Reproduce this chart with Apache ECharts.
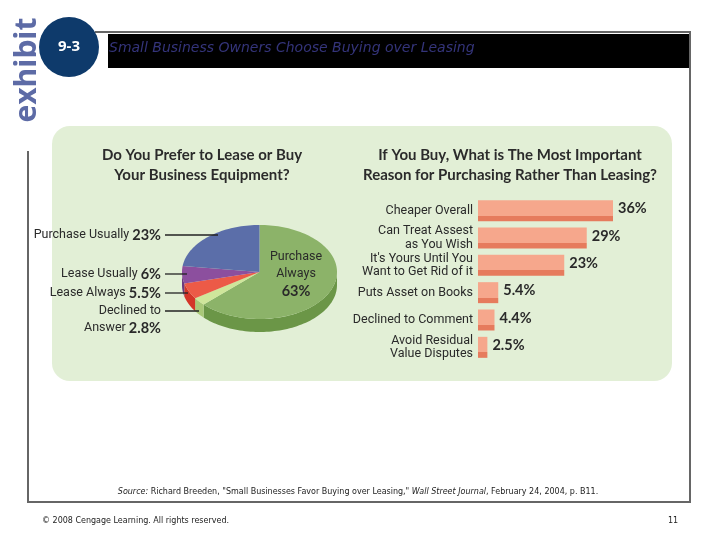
<!DOCTYPE html>
<html><head><meta charset="utf-8">
<script src="https://cdn.jsdelivr.net/npm/echarts@6/dist/echarts.min.js"></script>
<style>html,body{margin:0;padding:0;background:#fff}#c{width:720px;height:540px}</style>
</head><body><div id="c"></div>
<script>
// ---- data ----
const pieNames = ['Purchase\nAlways', 'Declined to\nAnswer', 'Lease Always', 'Lease Usually', 'Purchase Usually'];
const pieValues = [63, 2.8, 5.5, 6, 23];
const barCategories = ['Cheaper Overall', 'Can Treat Assest\nas You Wish', "It's Yours Until You\nWant to Get Rid of it", 'Puts Asset on Books', 'Declined to Comment', 'Avoid Residual\nValue Disputes'];
const barValues = [36, 29, 23, 5.4, 4.4, 2.5];
const pieTitle = 'Do You Prefer to Lease or Buy\nYour Business Equipment?';
const barTitle = 'If You Buy, What is The Most Important\nReason for Purchasing Rather Than Leasing?';
const mainTitle = 'Small Business Owners Choose Buying over Leasing';

// ---- styles / layout ----
const PIE = {cx: 259.5, cy: 272, rx: 77.5, ry: 47, depth: 13};
const topColors = ['#8cb369', '#cfe69b', '#ec5a47', '#8c4f9e', '#5b6ea9'];
const sideColors = ['#6b9647', '#a9c878', '#d43528', '#6a3a7e', '#44568a'];
const labelY = [274, 319.5, 293, 274, 235];
const lineEndX = [0, 199, 188, 187, 218];
const lineY = [0, 311, 293, 274, 235];
const NARROW = 'Roboto,"Liberation Sans Narrow",sans-serif';
const BOLD = 'Lato,"Open Sans",sans-serif';

const total = pieValues.reduce((a, b) => a + b, 0);
function ept(a, dy) { return [PIE.cx + PIE.rx * Math.cos(a), PIE.cy + PIE.ry * Math.sin(a) + (dy || 0)]; }
function arc(a0, a1, dy) {
  const n = Math.max(2, Math.ceil((a1 - a0) / (Math.PI / 90)));
  const pts = [];
  for (let k = 0; k <= n; k++) pts.push(ept(a0 + (a1 - a0) * k / n, dy));
  return pts;
}
function fmt(v) { return v + '%'; }

function renderPie(params, api) {
  const i = params.dataIndex;
  let before = 0;
  for (let j = 0; j < i; j++) before += pieValues[j];
  const v = api.value(0);
  const a0 = -Math.PI / 2 + before / total * 2 * Math.PI;
  const a1 = a0 + v / total * 2 * Math.PI;
  const children = [];
  const s0 = Math.max(a0, 0), s1 = Math.min(a1, Math.PI);
  if (s1 > s0) {
    const top = arc(s0, s1, 0);
    const bot = arc(s0, s1, PIE.depth).reverse();
    children.push({type: 'polygon', shape: {points: top.concat(bot)}, style: {fill: sideColors[i]}, z2: 1});
  }
  children.push({type: 'polygon', shape: {points: [[PIE.cx, PIE.cy]].concat(arc(a0, a1, 0))}, style: {fill: topColors[i]}, z2: 5});
  const lines = pieNames[i].split('\n');
  const rich = {
    n: {font: '12.5px ' + NARROW, fill: '#2a2a2a', lineHeight: 17},
    p: {font: 'bold 14.5px ' + BOLD, fill: '#2a2a2a', lineHeight: 17}
  };
  if (i === 0) {
    const txt = lines.map(l => '{n|' + l + '}').join('\n') + '\n{p|' + fmt(v) + '}';
    children.push({type: 'text', z2: 10, style: {x: 296, y: labelY[i], text: txt, rich: rich, align: 'center', verticalAlign: 'middle'}});
  } else {
    const parts = lines.map(l => '{n|' + l + '}');
    parts[parts.length - 1] = '{n|' + lines[lines.length - 1] + ' }{p|' + fmt(v) + '}';
    children.push({type: 'text', z2: 10, style: {x: 161, y: labelY[i], text: parts.join('\n'), rich: rich, align: 'right', verticalAlign: 'middle'}});
    children.push({type: 'line', z2: 10, shape: {x1: 165, y1: lineY[i], x2: lineEndX[i], y2: lineY[i]}, style: {stroke: '#222', lineWidth: 1.3}});
  }
  return {type: 'group', children: children};
}

const chart = echarts.init(document.getElementById('c'), null, {renderer: 'canvas'});
chart.setOption({
  animation: false,
  backgroundColor: '#ffffff',
  graphic: [
    {type: 'rect', z: 0, shape: {x: 52, y: 126, width: 620, height: 255, r: 18}, style: {fill: '#e2efd6'}},
    {type: 'text', z: 1, x: 27, y: 70, rotation: Math.PI / 2, style: {text: 'exhibit', font: 'bold 30px "Open Sans",sans-serif', fill: '#5d6ba6', align: 'center', verticalAlign: 'middle'}},
    {type: 'line', z: 1, shape: {x1: 95, y1: 32, x2: 691, y2: 32}, style: {stroke: '#666', lineWidth: 2}},
    {type: 'line', z: 1, shape: {x1: 690, y1: 32, x2: 690, y2: 502}, style: {stroke: '#666', lineWidth: 2}},
    {type: 'line', z: 1, shape: {x1: 28, y1: 502, x2: 691, y2: 502}, style: {stroke: '#666', lineWidth: 2}},
    {type: 'line', z: 1, shape: {x1: 28, y1: 151, x2: 28, y2: 503}, style: {stroke: '#666', lineWidth: 2}},
    {type: 'rect', z: 1, shape: {x: 108, y: 34, width: 581, height: 34}, style: {fill: '#000'}},
    {type: 'circle', z: 2, shape: {cx: 69, cy: 47, r: 30}, style: {fill: '#0e3a6b'}},
    {type: 'text', z: 3, style: {x: 69, y: 47, text: '9-3', font: 'bold 15px "Open Sans",sans-serif', fill: '#fff', align: 'center', verticalAlign: 'middle'}},
    {type: 'text', z: 3, style: {x: 109, y: 48, text: mainTitle, font: 'italic 14px "DejaVu Sans",sans-serif', fill: '#34347a', align: 'left', verticalAlign: 'middle'}},
    {type: 'text', z: 3, style: {x: 202, y: 165, text: pieTitle, font: 'bold 15px ' + BOLD, lineHeight: 20, fill: '#2b2b2b', align: 'center', verticalAlign: 'middle'}},
    {type: 'text', z: 3, style: {x: 510, y: 165, text: barTitle, font: 'bold 15px ' + BOLD, lineHeight: 20, fill: '#2b2b2b', align: 'center', verticalAlign: 'middle'}},
    {type: 'text', z: 3, style: {x: 358, y: 492, text: '{i|Source:} Richard Breeden, "Small Businesses Favor Buying over Leasing," {i|Wall Street Journal}, February 24, 2004, p. B11.', font: '8px "DejaVu Sans",sans-serif', fill: '#222', align: 'center', verticalAlign: 'middle', rich: {i: {font: 'italic 8px "DejaVu Sans",sans-serif', fill: '#222'}}}},
    {type: 'text', z: 3, style: {x: 42, y: 521, text: '© 2008 Cengage Learning. All rights reserved.', font: '8px "DejaVu Sans",sans-serif', fill: '#222', align: 'left', verticalAlign: 'middle'}},
    {type: 'text', z: 3, style: {x: 673, y: 521, text: '11', font: '8px "DejaVu Sans",sans-serif', fill: '#222', align: 'center', verticalAlign: 'middle'}}
  ],
  grid: {left: 478, top: 197, width: 150, height: 164, containLabel: false},
  xAxis: {type: 'value', min: 0, max: 40, show: false},
  yAxis: {
    type: 'category', data: barCategories, inverse: true,
    axisLine: {show: false}, axisTick: {show: false}, splitLine: {show: false},
    axisLabel: {color: '#2a2a2a', fontSize: 12.5, fontFamily: NARROW, lineHeight: 13.5, margin: 5, align: 'right'}
  },
  series: [
    {
      type: 'bar', data: barValues, barWidth: 21, z: 5,
      itemStyle: {
        color: new echarts.graphic.LinearGradient(0, 0, 0, 1, [
          {offset: 0, color: '#f6a78c'}, {offset: 0.74, color: '#f6a78c'},
          {offset: 0.74, color: '#e67b5d'}, {offset: 1, color: '#e67b5d'}
        ])
      },
      label: {show: true, position: 'right', distance: 5, formatter: p => fmt(p.value), fontWeight: 'bold', fontSize: 14.5, fontFamily: BOLD, color: '#2a2a2a', offset: [0, -2]}
    },
    {
      type: 'custom', coordinateSystem: 'none', z: 5,
      data: pieValues.map(v => [v]),
      renderItem: renderPie
    }
  ]
});
</script></body></html>
